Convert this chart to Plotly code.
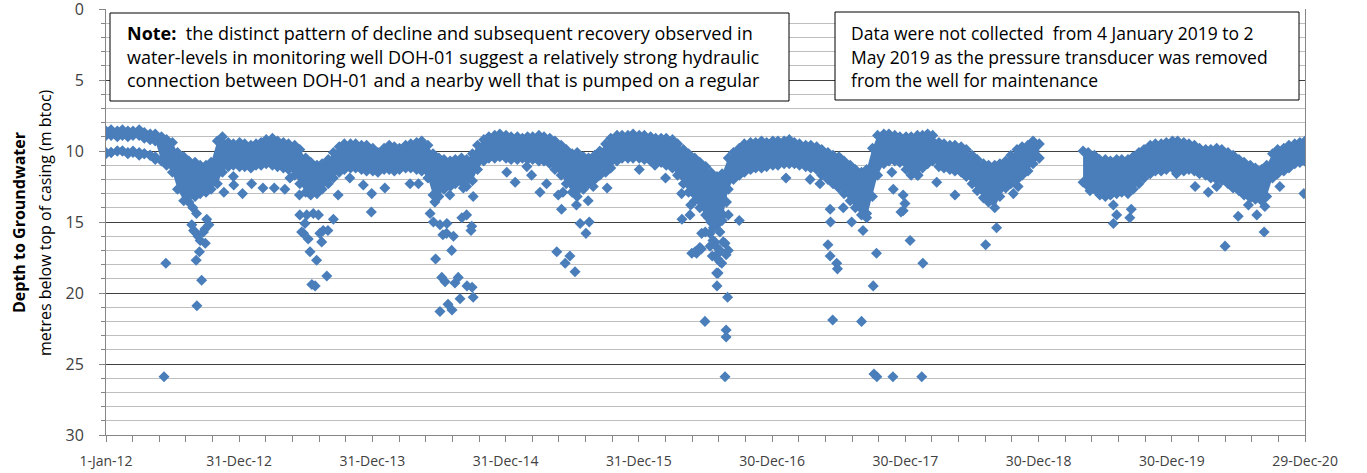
import plotly.graph_objects as go

# ---------------- data (depth in m btoc) ----------------
years = [2012, 2013, 2014, 2015, 2016, 2017, 2018, 2019, 2020]

# half-monthly envelope of the dense band of readings (1st and 15th of each month)
top_2012 = [8.6, 8.5, 8.6, 8.5, 8.6, 8.6, 8.5, 8.7, 8.8, 8.8, 9.0, 9.2, 9.4, 10.1, 10.4, 10.7, 10.8, 11.0, 11.0, 10.8, 9.3, 9.0, 9.4, 9.5]
bot_2012 = [8.9, 8.9, 9.0, 8.9, 9.0, 8.9, 8.9, 9.1, 9.2, 9.3, 10.7, 11.0, 11.5, 12.7, 13.5, 13.6, 13.2, 13.0, 12.9, 12.7, 12.3, 11.5, 11.1, 11.0]
top_2013 = [9.4, 9.5, 9.6, 9.5, 9.4, 9.2, 9.1, 9.3, 9.4, 9.5, 9.6, 9.9, 10.5, 10.8, 11.0, 10.9, 10.6, 10.1, 9.7, 9.5, 9.5, 9.5, 9.6, 9.6]
bot_2013 = [11.1, 11.1, 11.2, 11.0, 11.0, 10.9, 11.0, 11.1, 11.2, 11.3, 11.7, 12.3, 12.9, 13.1, 13.0, 12.7, 12.3, 11.9, 11.5, 11.3, 11.2, 11.2, 11.3, 11.4]
top_2014 = [9.8, 10.1, 9.8, 9.6, 9.7, 9.8, 9.6, 9.5, 9.4, 9.3, 9.6, 10.2, 10.5, 10.6, 10.7, 10.6, 10.5, 10.6, 10.2, 9.6, 9.2, 9.0, 8.9, 8.8]
bot_2014 = [11.4, 11.5, 11.3, 11.3, 11.4, 11.3, 11.2, 11.2, 11.3, 11.4, 11.9, 13.1, 13.2, 12.7, 12.5, 12.3, 12.2, 12.5, 12.1, 11.3, 10.7, 10.5, 10.5, 10.4]
top_2015 = [8.9, 9.0, 9.0, 9.1, 9.0, 9.0, 8.9, 9.0, 9.1, 9.3, 9.6, 9.9, 10.2, 10.1, 10.4, 10.5, 10.3, 10.0, 9.5, 9.1, 8.9, 8.9, 8.9, 8.8]
bot_2015 = [10.5, 10.6, 10.6, 10.5, 10.6, 10.6, 10.7, 10.7, 10.9, 11.3, 11.7, 12.3, 12.9, 13.2, 12.7, 12.3, 12.0, 11.7, 11.5, 11.2, 10.7, 10.5, 10.5, 10.5]
top_2016 = [8.9, 8.9, 9.0, 9.1, 9.1, 9.1, 9.2, 9.5, 9.9, 10.2, 10.5, 10.8, 11.1, 11.5, 11.8, 11.6, 10.5, 10.1, 9.8, 9.5, 9.4, 9.4, 9.3, 9.4]
bot_2016 = [10.5, 10.6, 10.7, 10.7, 10.8, 11.0, 11.2, 11.7, 12.3, 12.9, 13.5, 14.0, 14.5, 15.0, 15.2, 14.9, 12.7, 12.0, 11.7, 11.5, 11.3, 11.2, 11.2, 11.1]
top_2017 = [9.3, 9.3, 9.3, 9.2, 9.4, 9.5, 9.6, 9.6, 9.7, 9.9, 10.1, 10.3, 10.4, 10.7, 11.0, 11.3, 11.5, 11.3, 9.8, 8.9, 8.8, 8.8, 8.9, 9.0]
bot_2017 = [11.0, 11.0, 10.9, 10.9, 10.9, 11.0, 11.1, 11.2, 11.3, 11.7, 12.0, 12.3, 12.6, 13.0, 13.5, 14.0, 14.5, 14.7, 13.2, 11.7, 10.9, 10.7, 10.7, 10.8]
top_2018 = [9.0, 9.0, 8.9, 8.9, 8.8, 8.9, 9.4, 9.5, 9.6, 9.6, 9.7, 9.9, 10.3, 10.6, 10.9, 11.0, 11.0, 10.9, 10.7, 10.3, 9.9, 9.7, 9.6, 9.3]
bot_2018 = [11.3, 11.7, 11.7, 11.2, 10.9, 10.7, 11.1, 11.2, 11.3, 11.4, 11.5, 11.8, 12.3, 12.8, 13.3, 13.6, 14.0, 13.2, 12.6, 12.3, 12.0, 11.7, 11.4, 10.9]
# no data 4 Jan 2019 - 2 May 2019 (transducer removed)
top_2019 = [9.5, None, None, None, None, None, None, None, 10.0, 10.1, 10.3, 10.6, 10.6, 10.7, 10.6, 10.6, 10.6, 10.4, 10.1, 9.9, 9.6, 9.5, 9.5, 9.4]
bot_2019 = [10.5, None, None, None, None, None, None, None, 12.2, 12.5, 12.7, 13.0, 13.2, 13.1, 13.0, 12.9, 13.0, 12.7, 12.3, 11.9, 11.6, 11.4, 11.4, 11.3]
# 2020 has an extra final reading on 29 Dec
top_2020 = [9.3, 9.3, 9.4, 9.5, 9.6, 9.8, 9.9, 9.9, 9.8, 9.9, 10.1, 10.3, 10.6, 10.8, 11.0, 11.2, 11.3, 11.0, 10.2, 9.9, 9.8, 9.6, 9.5, 9.4, 9.3]
bot_2020 = [11.2, 11.3, 11.4, 11.3, 11.4, 11.6, 11.7, 11.9, 12.0, 12.1, 12.3, 12.6, 12.8, 13.1, 13.3, 13.4, 13.5, 13.2, 11.9, 11.6, 11.4, 11.2, 10.9, 10.8, 10.7]

# early 2012: second (deeper) row of readings, Jan - mid May
lower_row_top_2012 = [10.1, 10.1, 10.0, 10.0, 10.1, 10.0, 10.1, 10.2, 10.3, 10.4]
lower_row_bot_2012 = [10.2, 10.1, 10.0, 10.0, 10.2, 10.1, 10.3, 10.2, 10.3, 10.6]

# isolated deeper readings
outlier_dates = [
    "2012-06-08", "2012-06-13", "2012-08-23", "2012-08-26", "2012-08-28", "2012-09-01", "2012-09-04", "2012-09-05",
    "2012-09-06", "2012-09-09", "2012-09-13", "2012-09-15", "2012-09-19", "2012-09-24", "2012-09-28", "2012-09-29",
    "2012-10-03", "2012-10-09", "2012-11-19", "2012-12-15", "2012-12-16", "2013-01-09",
    "2013-02-03", "2013-03-06", "2013-04-06", "2013-05-05", "2013-05-19", "2013-06-14", "2013-06-15", "2013-06-20",
    "2013-06-25", "2013-06-29", "2013-07-04", "2013-07-08", "2013-07-13", "2013-07-18", "2013-07-22", "2013-07-27",
    "2013-07-31", "2013-08-05", "2013-08-09", "2013-08-14", "2013-08-18", "2013-08-28", "2013-08-31", "2013-09-15",
    "2013-09-28", "2013-10-30", "2013-12-06", "2013-12-28", "2013-12-29",
    "2014-02-03", "2014-04-13", "2014-05-06", "2014-06-07", "2014-06-16", "2014-06-20", "2014-06-22", "2014-07-04",
    "2014-07-04", "2014-07-09", "2014-07-12", "2014-07-18", "2014-07-22", "2014-07-23", "2014-07-26", "2014-07-31",
    "2014-08-05", "2014-08-06", "2014-08-10", "2014-08-14", "2014-08-23", "2014-08-28", "2014-09-02", "2014-09-06",
    "2014-09-15", "2014-09-16", "2014-09-27", "2014-09-29", "2014-09-30", "2014-10-03", "2014-10-03",
    "2015-01-03", "2015-01-26", "2015-02-27", "2015-03-12", "2015-04-04", "2015-04-22", "2015-05-20", "2015-05-24",
    "2015-06-02", "2015-06-06", "2015-06-12", "2015-06-25", "2015-07-09", "2015-07-13", "2015-07-23", "2015-08-08",
    "2015-08-14", "2015-08-17", "2015-08-28", "2015-10-05",
    "2016-01-01", "2016-02-13", "2016-03-13", "2016-04-26", "2016-04-27", "2016-05-19", "2016-05-21", "2016-05-24",
    "2016-06-02", "2016-06-02", "2016-06-06", "2016-06-15", "2016-06-19", "2016-06-20", "2016-06-29", "2016-06-29",
    "2016-06-30", "2016-07-08", "2016-07-13", "2016-07-13", "2016-07-13", "2016-07-17", "2016-07-19", "2016-07-21",
    "2016-07-22", "2016-07-26", "2016-07-26", "2016-07-29", "2016-07-31", "2016-07-31", "2016-07-31", "2016-08-01",
    "2016-08-03", "2016-08-04", "2016-08-09", "2016-08-09", "2016-08-09", "2016-08-09", "2016-08-09", "2016-08-14",
    "2016-08-18", "2016-08-18", "2016-08-23", "2016-08-23", "2016-08-26", "2016-08-26", "2016-08-26", "2016-08-27",
    "2016-08-30", "2016-09-01", "2016-09-01", "2016-10-01",
    "2017-02-06", "2017-04-13", "2017-05-10", "2017-06-01", "2017-06-07", "2017-06-07", "2017-06-08", "2017-06-14",
    "2017-06-25", "2017-06-27", "2017-07-13", "2017-08-05", "2017-09-01", "2017-09-05", "2017-09-15", "2017-10-03",
    "2017-10-05", "2017-10-12", "2017-10-13", "2017-11-23", "2017-11-26", "2017-11-27", "2017-12-18", "2017-12-24",
    "2017-12-24", "2017-12-29",
    "2018-01-12", "2018-02-03", "2018-02-13", "2018-02-16", "2018-03-26", "2018-05-15", "2018-08-07", "2018-09-06",
    "2018-10-22", "2018-11-04",
    "2019-05-20", "2019-06-16", "2019-07-23", "2019-07-23", "2019-08-01", "2019-09-06", "2019-09-10",
    "2020-01-12", "2020-03-03", "2020-04-08", "2020-05-01", "2020-05-24", "2020-06-29", "2020-07-27", "2020-08-19",
    "2020-09-08", "2020-09-10", "2020-10-21", "2020-12-26", "2020-12-29",
]
outlier_depths = [
    25.9, 17.9, 15.2, 14.0, 15.6, 15.7, 17.7, 14.4,
    20.9, 16.0, 17.1, 16.3, 19.1, 15.7, 15.5, 16.5,
    14.8, 15.2, 12.9, 11.8, 12.4, 13.0,
    12.3, 12.6, 12.6, 12.7, 11.9, 13.1, 14.5, 15.7,
    15.8, 15.1, 14.5, 16.2, 17.1, 19.4, 14.4, 19.5,
    17.7, 14.5, 15.8, 16.4, 15.6, 18.8, 15.6, 14.8,
    13.1, 11.9, 12.4, 14.3, 13.0,
    12.6, 12.3, 12.3, 14.4, 15.0, 13.6, 17.6, 15.2,
    21.3, 18.9, 15.9, 19.2, 15.8, 15.1, 20.8, 13.1,
    17.0, 21.2, 16.0, 19.3, 18.9, 20.4, 14.7, 12.6,
    14.5, 19.5, 15.6, 15.3, 19.6, 20.3, 13.2,
    11.5, 12.2, 11.1, 11.7, 12.9, 12.3, 17.1, 13.1,
    14.1, 12.9, 17.9, 17.4, 18.5, 13.8, 15.1, 15.8,
    13.5, 15.0, 12.5, 12.6,
    11.3, 11.0, 11.9, 13.0, 14.8, 14.5, 13.8, 17.2,
    17.1, 13.1, 17.2, 16.8, 16.9, 15.8, 22.0, 12.9,
    15.7, 14.7, 13.1, 16.7, 15.8, 14.0, 17.4, 16.3,
    15.4, 11.9, 16.4, 16.7, 15.0, 17.3, 18.6, 19.5,
    17.6, 18.6, 12.5, 13.7, 15.7, 17.0, 17.8, 17.9,
    14.5, 16.4, 16.5, 25.9, 17.3, 22.6, 23.1, 13.6,
    20.3, 14.5, 17.0, 14.9,
    11.9, 12.0, 12.3, 16.6, 17.4, 14.1, 15.0, 21.9,
    17.9, 18.3, 14.0, 15.0, 22.0, 15.6, 14.4, 19.5,
    25.7, 17.2, 25.9, 11.5, 25.9, 12.7, 14.3, 13.1,
    14.2, 13.7,
    16.3, 11.7, 25.9, 17.9, 12.2, 13.1, 16.6, 15.4,
    13.0, 12.5,
    12.8, 13.1, 15.1, 13.8, 14.5, 14.7, 14.1,
    11.6, 12.5, 12.9, 12.5, 16.7, 14.6, 13.8, 14.5,
    15.7, 13.9, 12.5, 13.0, 10.7,
]

tick_dates = ["2012-01-01", "2012-12-31", "2013-12-31", "2014-12-31", "2015-12-31",
              "2016-12-30", "2017-12-30", "2018-12-30", "2019-12-30", "2020-12-29"]
tick_labels = ["1-Jan-12", "31-Dec-12", "31-Dec-13", "31-Dec-14", "31-Dec-15",
               "30-Dec-16", "30-Dec-17", "30-Dec-18", "30-Dec-19", "29-Dec-20"]

note_lines = [
    "<b>Note:</b>  the distinct pattern of decline and subsequent recovery observed in",
    "water-levels in monitoring well DOH-01 suggest a relatively strong hydraulic",
    "connection between DOH-01 and a nearby well that is pumped on a regular",
]
gap_lines = [
    "Data were not collected  from 4 January 2019 to 2",
    "May 2019 as the pressure transducer was removed",
    "from the well for maintenance",
]

# ---------------- assemble ----------------
tops_by_year = [top_2012, top_2013, top_2014, top_2015, top_2016, top_2017, top_2018, top_2019, top_2020]
bots_by_year = [bot_2012, bot_2013, bot_2014, bot_2015, bot_2016, bot_2017, bot_2018, bot_2019, bot_2020]


def half_month_dates(year, n):
    ds = []
    for m in range(1, 13):
        ds += [f"{year}-{m:02d}-01", f"{year}-{m:02d}-15"]
    ds.append(f"{year}-12-29")
    return ds[:n]


dates, tops, bots = [], [], []
for yr, t, b in zip(years, tops_by_year, bots_by_year):
    dates += half_month_dates(yr, len(t))
    tops += t
    bots += b


def segments(xs, a, b):
    segs, cur = [], ([], [], [])
    for x, u, v in zip(xs, a, b):
        if u is None or v is None:
            if cur[0]:
                segs.append(cur)
            cur = ([], [], [])
        else:
            cur[0].append(x); cur[1].append(u); cur[2].append(v)
    if cur[0]:
        segs.append(cur)
    return segs


BLUE = "#4A7EBB"
mk = dict(symbol="diamond", size=8.5, color=BLUE, line=dict(width=0))

fig = go.Figure()
band_segs = segments(dates, tops, bots)
band_segs += segments(half_month_dates(2012, len(lower_row_top_2012)), lower_row_top_2012, lower_row_bot_2012)
for xs, t, b in band_segs:
    fig.add_trace(go.Scatter(x=xs, y=b, mode="lines+markers", marker=mk,
                             line=dict(width=0, color=BLUE), hoverinfo="skip"))
    fig.add_trace(go.Scatter(x=xs, y=t, mode="lines+markers", marker=mk,
                             line=dict(width=0, color=BLUE), fill="tonexty",
                             fillcolor=BLUE, hoverinfo="skip"))
fig.add_trace(go.Scatter(x=outlier_dates, y=outlier_depths, mode="markers", marker=mk))

# ---------------- layout ----------------
# target plot area in page pixels (page body margin is removed below)
L, R, T, B = 106, 1305, 9, 435
W, H = 1367, 473


def px(x):
    return (x - L) / (R - L)


def py(y):
    return (B - y) / (B - T)


fig.update_layout(
    width=W, height=H,
    margin=dict(l=L, r=W - R, t=T, b=H - B, autoexpand=False),
    plot_bgcolor="white", paper_bgcolor="white", showlegend=False,
    font=dict(family="Open Sans, sans-serif", size=15, color="#404040"),
)
fig.update_xaxes(
    type="date", range=["2012-01-01", "2020-12-29"], automargin=False,
    tickvals=tick_dates, ticktext=tick_labels,
    ticks="outside", ticklen=6, tickcolor="#868686",
    showline=True, linecolor="#868686", showgrid=False, zeroline=False,
    minor=dict(dtick=73 * 86400000, tick0="2012-01-01", ticks="outside", ticklen=6,
               tickcolor="#868686", showgrid=False),
    tickfont=dict(size=14, color="#404040"), ticklabelstandoff=7, ticklabeloverflow="allow",
)
fig.update_yaxes(
    range=[30, 0], tick0=0, dtick=5, automargin=False,
    ticks="outside", ticklen=6, tickcolor="#868686",
    showline=True, linecolor="#868686", mirror=True,
    showgrid=True, gridcolor="#404040", gridwidth=1, zeroline=False,
    minor=dict(dtick=1, tick0=0, ticks="outside", ticklen=4, tickcolor="#868686",
               showgrid=True, gridcolor="#BFBFBF", gridwidth=1),
    tickfont=dict(size=16, color="#404040"), ticklabelstandoff=12, ticklabeloverflow="allow",
)

# text boxes
fig.add_shape(type="rect", xref="paper", yref="paper", x0=px(110), x1=px(789), y0=py(101), y1=py(13),
              fillcolor="white", line=dict(color="#000000", width=1), layer="above")
fig.add_shape(type="rect", xref="paper", yref="paper", x0=px(835), x1=px(1299), y0=py(100), y1=py(12),
              fillcolor="white", line=dict(color="#000000", width=1), layer="above")
for i, ln_y in enumerate([33, 57, 80]):
    fig.add_annotation(text=note_lines[i], xref="paper", yref="paper", x=px(125), y=py(ln_y),
                       xanchor="left", yanchor="middle", showarrow=False,
                       font=dict(size=18, color="#000000"))
    fig.add_annotation(text=gap_lines[i], xref="paper", yref="paper", x=px(849), y=py(ln_y),
                       xanchor="left", yanchor="middle", showarrow=False,
                       font=dict(size=17.5, color="#000000"))

# y-axis title (two lines)
fig.add_annotation(text="<b>Depth to Groundwater</b>", xref="paper", yref="paper", x=px(19), y=py(223),
                   textangle=-90, showarrow=False, xanchor="center", yanchor="middle",
                   font=dict(size=16, color="#000000"))
fig.add_annotation(text="metres below top of casing (m btoc)", xref="paper", yref="paper", x=px(45), y=py(223),
                   textangle=-90, showarrow=False, xanchor="center", yanchor="middle",
                   font=dict(size=16, color="#000000"))

fig.write_html("out.html", config={"displayModeBar": False},
               post_script="document.body.style.margin='0px';")
